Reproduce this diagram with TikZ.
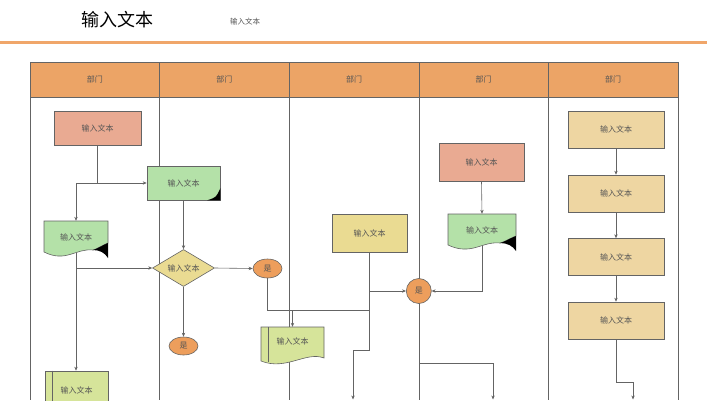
\documentclass[tikz,border=0pt]{standalone}
\usepackage{fontspec}
\newfontfamily\cjk{Noto Sans CJK SC}
\usepackage{tikz}
\usetikzlibrary{shapes.geometric,calc,arrows.meta}

\definecolor{hdrorange}{RGB}{236,164,102}
\definecolor{ruleorange}{RGB}{240,166,106}
\definecolor{salmon}{RGB}{233,170,146}
\definecolor{docgreen}{RGB}{180,225,168}
\definecolor{lime}{RGB}{214,228,154}
\definecolor{sand}{RGB}{234,219,146}
\definecolor{ballorange}{RGB}{237,158,92}
\definecolor{tan}{RGB}{238,214,162}
\definecolor{linegray}{RGB}{100,100,100}
\definecolor{txtgray}{RGB}{85,85,85}

\begin{document}
\begin{tikzpicture}[x=1pt,y=-1pt,>={Stealth[length=4pt,width=3.4pt]},
        every node/.style={font=\cjk\fontsize{8}{9}\selectfont,text=txtgray,inner sep=0pt},
        proc/.style={rectangle,draw=linegray,line width=0.6pt},
        link/.style={draw=linegray,line width=0.6pt}]
        \clip (0,0) rectangle (707,400);

        % title and rule
        \node[font=\cjk\fontsize{18}{20}\selectfont,text=black] (title) at (117,20) {输入文本};
        \node[font=\cjk\fontsize{7.5}{9}\selectfont] (sub) at (245,22) {输入文本};
        \draw[ruleorange,line width=3.2pt] (0,42.5) -- (707,42.5);

        % lanes
        \foreach \i in {0,...,4}
            \node[proc,fill=hdrorange,minimum width=129.6pt,minimum height=35pt] (h\i) at ({94.8+129.6*\i},79.5) {部门};
        \foreach \x in {30,159.6,289.2,418.8,548.4,678}
            \draw[link] (\x,62) -- (\x,400);

        % lane 1
        \node[proc,fill=salmon,minimum width=87pt,minimum height=34pt] (a) at (97.5,128) {输入文本};
        \foreach \n/\x/\y/\w in {c/44/221/64,l/448/214/68}{
            \begin{scope}[shift={(\x,\y)},xscale=\w/64]
                \filldraw[fill=docgreen,draw=linegray,line width=0.6pt] (0,0) -- (64,0) -- (64,22)
                    .. controls (57,25) and (53,28) .. (49,29)
                    .. controls (32,27) and (22,42) .. (0,31) -- cycle;
                \fill[black] (64,22) .. controls (57,25) and (53,28) .. (49,29)
                    .. controls (56,29) and (61,32) .. (64,37) -- (64,22);
            \end{scope}
            \node[minimum width=\w pt,minimum height=32pt] (\n) at ({\x+\w/2},{\y+16}) {输入文本};
        }
        \node[proc,fill=lime,minimum width=63pt,minimum height=38pt] (h) at (76.5,390) {输入文本};
        \draw[link] ($(h.north west)+(8,0)$) -- ($(h.south west)+(8,0)$);

        % lane 2
        \node[proc,fill=docgreen,minimum width=73pt,minimum height=34pt] (b) at (183.5,183) {输入文本};
        \fill[black] ($(b.south east)+(0,-12)$) -- (b.south east) -- ($(b.south east)+(-13,0)$)
            .. controls ($(b.south east)+(-4,-3)$) .. ($(b.south east)+(0,-12)$);
        \node[diamond,draw=linegray,line width=0.6pt,fill=sand,aspect=1.7,minimum width=62pt,minimum height=37pt] (d) at (183.5,268) {输入文本};
        \node[ellipse,draw=linegray,line width=0.6pt,fill=ballorange,minimum width=29pt,minimum height=18pt] (f) at (183.5,346) {是};

        % lane 3
        \node[ellipse,draw=linegray,line width=0.6pt,fill=ballorange,minimum width=29pt,minimum height=19pt] (e) at (267.5,268.5) {是};
        \begin{scope}[shift={(261,327)}]
            \filldraw[fill=lime,draw=linegray,line width=0.6pt] (0,0) -- (63,0) -- (63,31)
                .. controls (45,24) and (25,44) .. (0,34) -- cycle;
            \draw[link] (7,0) -- (7,35);
        \end{scope}
        \node[minimum width=63pt,minimum height=28pt] (g) at (292.5,341) {输入文本};
        \node[proc,fill=sand,minimum width=75pt,minimum height=38pt] (i) at (369.5,233) {输入文本};

        % lane 4
        \node[circle,draw=linegray,line width=0.6pt,fill=ballorange,minimum size=25pt] (j) at (418.8,291) {是};
        \node[proc,fill=salmon,minimum width=85pt,minimum height=38pt] (k) at (481.5,162) {输入文本};

        % lane 5
        \foreach \y [count=\k] in {129.5,193.5,257,320.5}
            \node[proc,fill=tan,minimum width=96pt,minimum height=37pt] (m\k) at (616,\y) {输入文本};

        % connectors
        \coordinate (s1) at (a.south |- b.west);
        \draw[link] (a.south) -- (s1);
        \draw[link,->] (s1) -- (b.west);
        \draw[link,->] (s1) -| (c.north);
        \draw[link,->] (b.south) -- (d.north);
        \coordinate (s2) at (c.south |- d.west);
        \draw[link,->] (c.south) -- (c.south |- h.north);
        \draw[link,->] (s2) -- (d.west);
        \draw[link,->] (d.east) -- (e.west);
        \draw[link,->] (d.south) -- (f.north);

        \coordinate (t1) at ($(i.south)+(0,58)$);
        \draw[link] (e.south) |- (t1);
        \draw[link,->] (g.north |- t1) -- (g.north);
        \coordinate (u0) at (353,350);
        \coordinate (u1) at (353,399.5);
        \draw[link,->] (i.south) |- (u0) -- (u1);
        \draw[link,->] (i.south |- j.west) -- (j.west);

        \draw[link,->] (k.south) -- (l.north);
        \draw[link,->] (l.south) |- (j.east);
        \coordinate (v0) at (493,363);
        \coordinate (v1) at (493,399.5);
        \draw[link,->] (j.south) |- (v0) -- (v1);

        \foreach \x [remember=\x as \p] in {1,...,4}{
            \ifnum \x>1
                \draw[link,->] (m\p) -- (m\x);
            \fi
        }
        \coordinate (w0) at (633,382);
        \coordinate (w1) at (633,399.5);
        \draw[link,->] (m4.south) |- (w0) -- (w1);
\end{tikzpicture}
\end{document}
